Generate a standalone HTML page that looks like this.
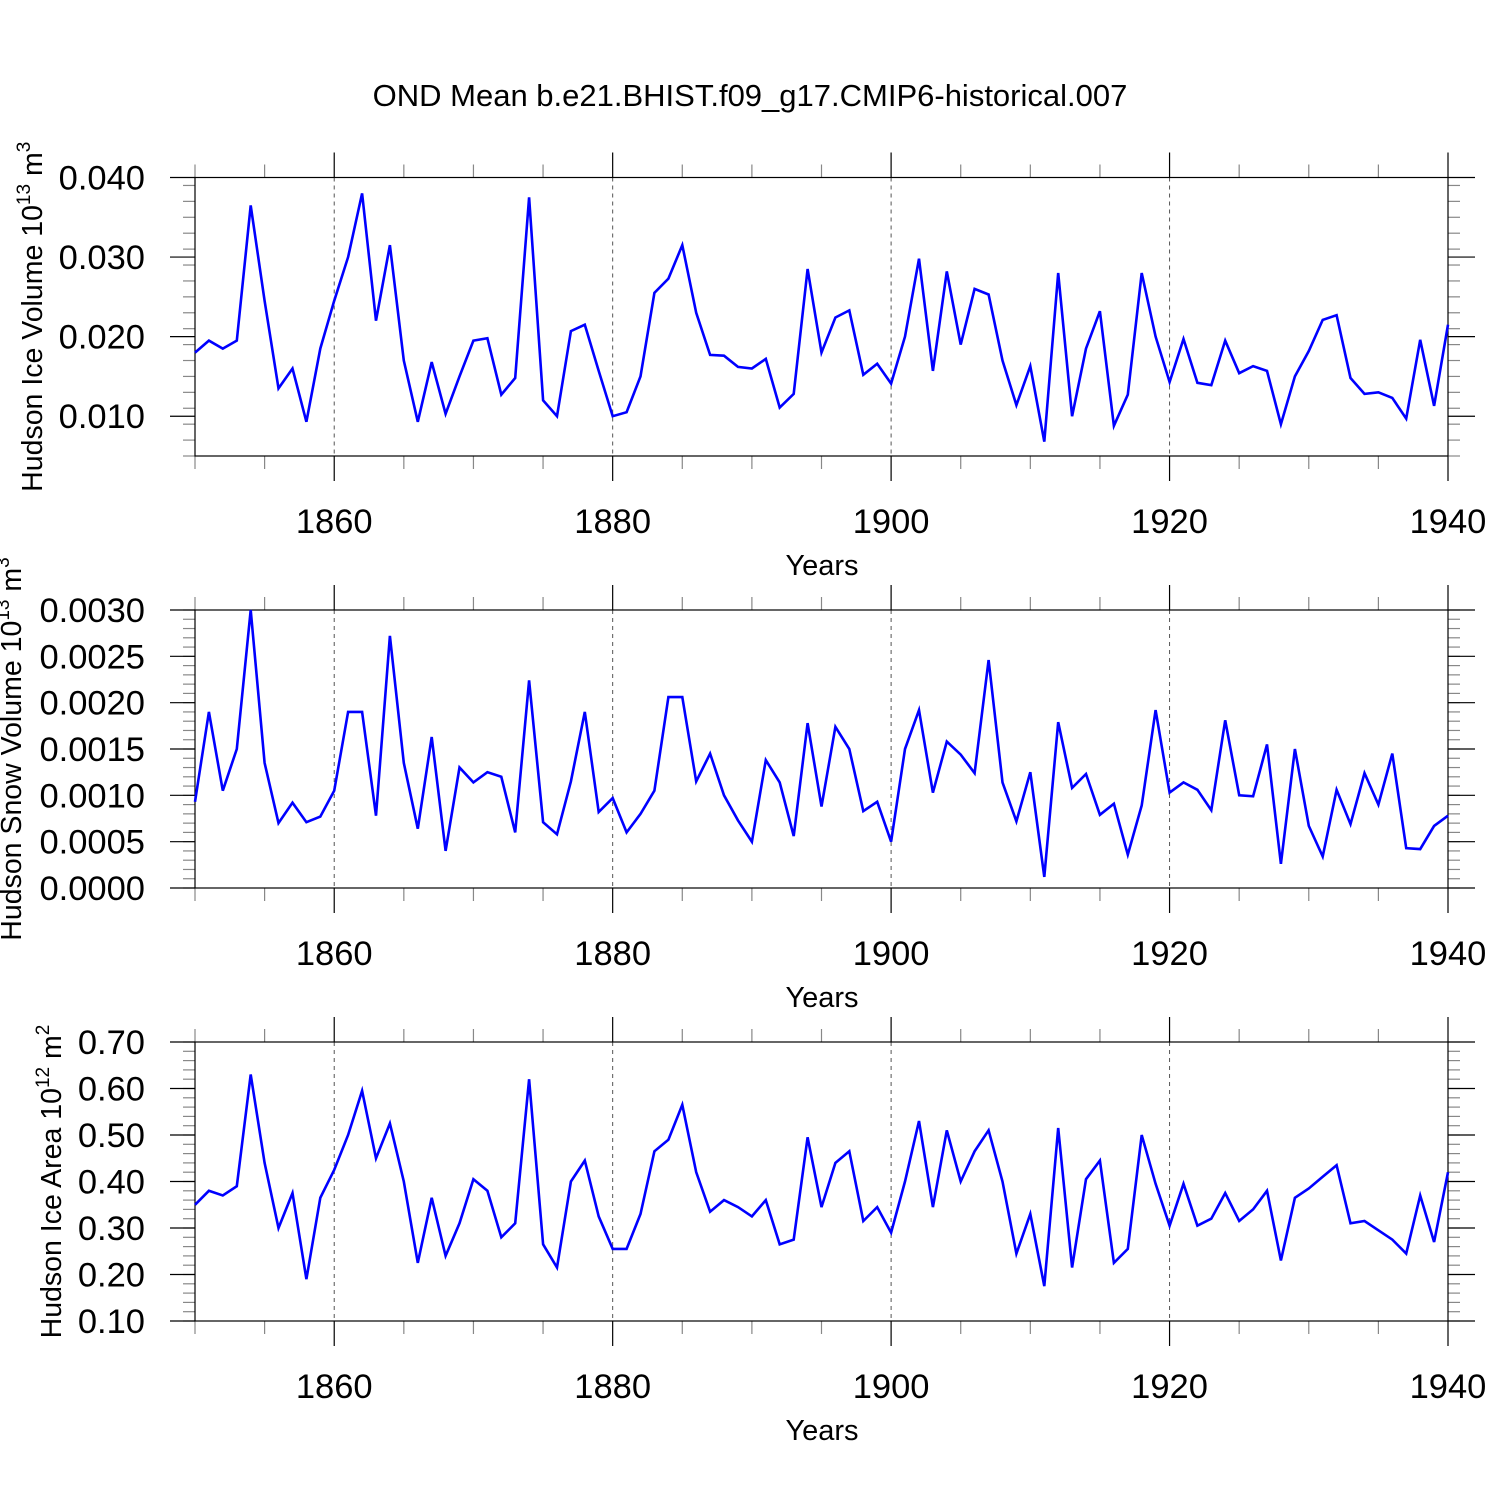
<!DOCTYPE html>
<html><head><meta charset="utf-8">
<style>
html,body{margin:0;padding:0;background:#fff;}
svg{display:block;font-family:"Liberation Sans",Arial,sans-serif;}
</style></head>
<body>
<svg id="chart" width="1500" height="1500" xmlns="http://www.w3.org/2000/svg">
<rect x="0" y="0" width="1500" height="1500" fill="#fff"/>
<text x="750" y="106" font-size="31" text-anchor="middle">OND Mean b.e21.BHIST.f09_g17.CMIP6-historical.007</text>
</svg>
<script>
const years = [];
for (let y = 1850; y <= 1940; y++) years.push(y);
const iceVolume = [0.018,0.0195,0.0185,0.0195,0.0365,0.0245,0.0135,0.016,0.0093,0.0185,
0.0245,0.030,0.038,0.022,0.0315,0.017,0.0093,0.0168,0.0103,0.015,
0.0195,0.0198,0.0127,0.0148,0.0375,0.012,0.010,0.0207,0.0215,0.0157,
0.010,0.0105,0.015,0.0255,0.0273,0.0315,0.023,0.0177,0.0176,0.0162,
0.016,0.0172,0.0111,0.0128,0.0285,0.018,0.0224,0.0233,0.0152,0.0166,
0.0141,0.0200,0.0298,0.0157,0.0282,0.0190,0.0260,0.0253,0.0170,0.0114,
0.0163,0.0068,0.0280,0.0100,0.0185,0.0232,0.0088,0.0127,0.0280,0.0200,
0.0143,0.0197,0.0142,0.0139,0.0195,0.0154,0.0163,0.0157,0.0090,0.0150,
0.0182,0.0221,0.0227,0.0148,0.0128,0.0130,0.0123,0.0097,0.0196,0.0113,0.0215];
const snowVolume = [0.00093,0.0019,0.00105,0.0015,0.0030,0.00135,0.0007,0.00092,0.00071,0.00077,
0.00105,0.0019,0.0019,0.00078,0.00272,0.00135,0.00064,0.00163,0.0004,0.0013,
0.00114,0.00125,0.0012,0.0006,0.00224,0.00071,0.00058,0.00115,0.0019,0.00082,
0.00097,0.0006,0.0008,0.00105,0.00206,0.00206,0.00115,0.00145,0.001,0.00073,
0.0005,0.00138,0.00114,0.00056,0.00178,0.00088,0.00174,0.0015,0.00083,0.00093,
0.0005,0.0015,0.00192,0.00103,0.00158,0.00144,0.00124,0.00246,0.00114,0.00072,
0.00125,0.00012,0.00179,0.00108,0.00123,0.00079,0.00091,0.00036,0.00089,0.00192,
0.00103,0.00114,0.00106,0.00084,0.00181,0.001,0.00099,0.00155,0.00026,0.0015,
0.00067,0.00034,0.00106,0.00069,0.00124,0.0009,0.00145,0.00043,0.00042,0.00067,0.00078];
const iceArea = [0.35,0.38,0.37,0.39,0.63,0.44,0.30,0.375,0.19,0.365,
0.425,0.50,0.595,0.45,0.525,0.40,0.225,0.365,0.24,0.31,
0.405,0.38,0.28,0.31,0.62,0.265,0.215,0.40,0.445,0.325,
0.255,0.255,0.33,0.465,0.49,0.565,0.42,0.335,0.36,0.345,
0.325,0.36,0.265,0.275,0.495,0.345,0.44,0.465,0.315,0.345,
0.29,0.40,0.53,0.345,0.51,0.40,0.465,0.51,0.40,0.245,
0.33,0.175,0.515,0.215,0.405,0.445,0.225,0.255,0.50,0.395,
0.305,0.395,0.305,0.32,0.375,0.315,0.34,0.38,0.23,0.365,
0.385,0.41,0.435,0.31,0.315,0.295,0.275,0.245,0.37,0.27,0.42];
const xTickLabels = [1860,1880,1900,1920,1940];
const iceVolTicks = ["0.010","0.020","0.030","0.040"];
const snowTicks = ["0.0000","0.0005","0.0010","0.0015","0.0020","0.0025","0.0030"];
const areaTicks = ["0.10","0.20","0.30","0.40","0.50","0.60","0.70"];

const svg = document.getElementById('chart');
const NS = 'http://www.w3.org/2000/svg';
function mk(tag, attrs, parent) {
  const e = document.createElementNS(NS, tag);
  for (const k in attrs) e.setAttribute(k, attrs[k]);
  (parent || svg).appendChild(e);
  return e;
}
const X0 = 195, X1 = 1448, YMIN = 1850, YMAX = 1940;
function xs(yr) { return X0 + (yr - YMIN) / (YMAX - YMIN) * (X1 - X0); }

function panel(key, top, bottom, vmin, vmax, ticks, minorStep, values, titleMain, titleExp, titleUnit, titleX) {
  const g = mk('g', {});
  
  
  const ys = v => bottom - (v - vmin) / (vmax - vmin) * (bottom - top);
  xTickLabels.forEach(yr => {
    if (yr < YMAX) {
      const l = mk('line', {x1: xs(yr), x2: xs(yr), y1: top, y2: bottom, stroke: '#555', 'stroke-width': 1, 'stroke-dasharray': '4,4'}, g);
      
      
    }
  });
  for (let yr = YMIN; yr <= YMAX; yr += 5) {
    const major = xTickLabels.includes(yr);
    const len = major ? 25 : 13;
    const c = major ? '#000' : '#888';
    mk('line', {x1: xs(yr), x2: xs(yr), y1: top - len, y2: top, stroke: c, 'stroke-width': 1.2}, g);
    mk('line', {x1: xs(yr), x2: xs(yr), y1: bottom, y2: bottom + len, stroke: c, 'stroke-width': 1.2}, g);
  }
  xTickLabels.forEach(yr => {
    const t = mk('text', {x: xs(yr), y: bottom + 77, 'font-size': 34.5, 'text-anchor': 'middle'}, g);
    t.textContent = yr;
    
    
  });
  for (let v = vmin; v <= vmax + 1e-12; v += minorStep) {
    const y = ys(v);
    mk('line', {x1: X0 - 12, x2: X0, y1: y, y2: y, stroke: '#888', 'stroke-width': 1.2}, g);
    mk('line', {x1: X1, x2: X1 + 12, y1: y, y2: y, stroke: '#888', 'stroke-width': 1.2}, g);
  }
  ticks.forEach(s => {
    const y = ys(parseFloat(s));
    mk('line', {x1: X0 - 25, x2: X0, y1: y, y2: y, stroke: '#000', 'stroke-width': 1.2}, g);
    mk('line', {x1: X1, x2: X1 + 27, y1: y, y2: y, stroke: '#000', 'stroke-width': 1.2}, g);
    const t = mk('text', {x: X0 - 50, y: y + 12, 'font-size': 34.5, 'text-anchor': 'end'}, g);
    t.textContent = s;
    
    
  });
  const f = mk('rect', {x: X0, y: top, width: X1 - X0, height: bottom - top, fill: 'none', stroke: '#000', 'stroke-width': 1.2}, g);
  
  
  const pts = values.map((v, i) => xs(years[i]).toFixed(1) + ',' + ys(v).toFixed(1)).join(' ');
  const pl = mk('polyline', {points: pts, fill: 'none', stroke: '#0000ff', 'stroke-width': 2.6, 'stroke-linejoin': 'miter'}, g);
  
  
  const xt = mk('text', {x: 822, y: bottom + 119, 'font-size': 29, 'text-anchor': 'middle'}, g);
  xt.textContent = 'Years';
  
  
  const mid = (top + bottom) / 2;
  const yt = mk('text', {x: 0, y: 0, 'font-size': 28.5, 'text-anchor': 'middle', transform: 'translate(' + titleX + ',' + mid + ') rotate(-90)'}, g);
  
  
  const a = mk('tspan', {}, yt); a.textContent = titleMain;
  const b = mk('tspan', {dy: -12, 'font-size': 19}, yt); b.textContent = titleExp;
  const c = mk('tspan', {dy: 12}, yt); c.textContent = ' m';
  const d = mk('tspan', {dy: -12, 'font-size': 19}, yt); d.textContent = titleUnit;
}
panel('ice-volume', 177.5, 456, 0.005, 0.040, iceVolTicks, 0.002, iceVolume, 'Hudson Ice Volume 10', '13', '3', 42);
panel('snow-volume', 610, 888, 0, 0.003, snowTicks, 0.0001, snowVolume, 'Hudson Snow Volume 10', '13', '3', 21);
panel('ice-area', 1042, 1321, 0.10, 0.70, areaTicks, 0.02, iceArea, 'Hudson Ice Area 10', '12', '2', 61);
</script>
</body></html>
